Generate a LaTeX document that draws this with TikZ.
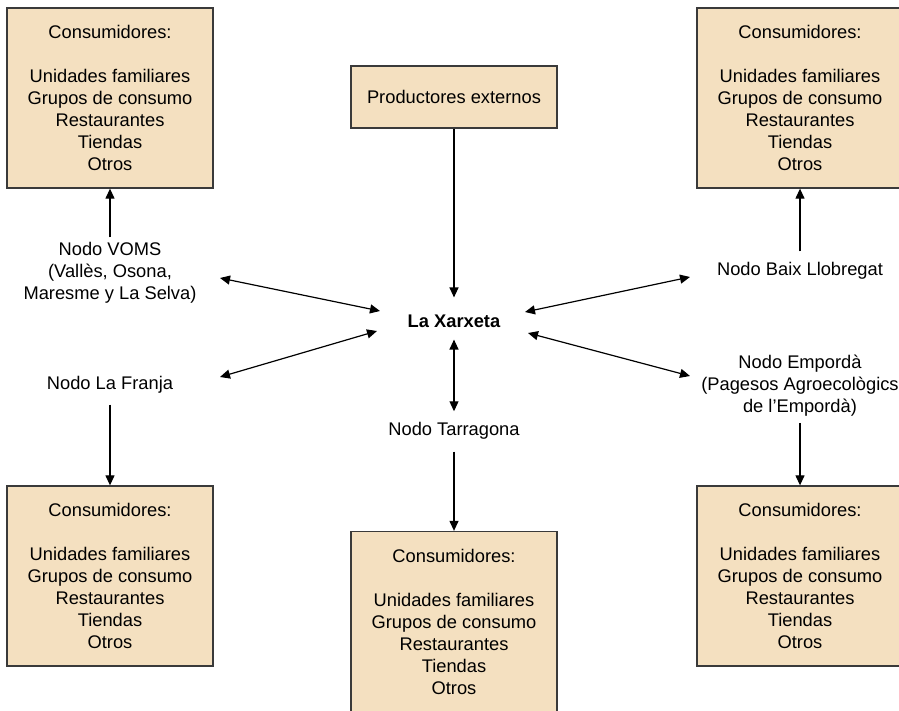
\documentclass[tikz,border=0pt]{standalone}
\usepackage{fontspec}
\setmainfont{Liberation Sans}
\usetikzlibrary{arrows.meta}
\definecolor{boxfill}{HTML}{F4E0C0}
\definecolor{boxline}{HTML}{3A3A3A}
\begin{document}
\begin{tikzpicture}[x=1pt,y=-1pt,
  txt/.style={font=\fontsize{18.3}{22}\selectfont},
  cbox/.style={txt,draw=boxline,fill=boxfill,line width=1.3pt,minimum width=206pt,minimum height=180pt,align=center,inner sep=0pt},
  pbox/.style={txt,draw=boxline,fill=boxfill,line width=1.3pt,minimum width=206pt,minimum height=62pt,align=center,inner sep=0pt},
  lbl/.style={txt,align=center,inner sep=0pt},
  arr/.style={line width=1.2pt,-{Triangle[length=10pt,width=9pt]}},
  darr/.style={line width=1.2pt,{Triangle[length=10pt,width=9pt]}-{Triangle[length=10pt,width=9pt]}}]
\useasboundingbox (0,0) rectangle (899,711);
\def\cons{Consumidores:\\[22pt]Unidades familiares\\Grupos de consumo\\Restaurantes\\Tiendas\\Otros}
% boxes
\node[cbox] (tl) at (110,98) {\cons};
\node[cbox] (tr) at (800,98) {\cons};
\node[cbox] (bl) at (110,576) {\cons};
\node[cbox] (br) at (800,576) {\cons};
\node[cbox] (bc) at (454,621.5) {\cons};
\node[pbox] (prod) at (454,97) {Productores externos};
% labels
\node[lbl,font=\fontsize{18.3}{22}\selectfont\bfseries] (xar) at (454,321) {La Xarxeta};
\node[lbl] (voms) at (110,273) {Nodo VOMS\\(Vallès, Osona,\\Maresme y La Selva)};
\node[lbl] (franja) at (110,385) {Nodo La Franja};
\node[lbl] (tarr) at (454,431) {Nodo Tarragona};
\node[lbl] (baix) at (800,271) {Nodo Baix Llobregat};
\node[lbl] (emp) at (800,386) {Nodo Empordà\\(Pagesos Agroecològics\\de l’Empordà)};
% connector end points
\coordinate (v1) at (220,278);
\coordinate (v2) at (380,311);
\coordinate (f1) at (220,377);
\coordinate (f2) at (377,331);
\coordinate (b1) at (690,277);
\coordinate (b2) at (525,312);
\coordinate (e1) at (690,376);
\coordinate (e2) at (528,333);
% connectors
\draw[arr] (prod.south) -- ([yshift=17pt]xar.north);
\draw[darr] ([yshift=-12pt]xar.south) -- ([yshift=11pt]tarr.north);
\draw[arr] ([yshift=-12pt]tarr.south) -- (bc.north);
\draw[darr] (v1) -- (v2);
\draw[darr] (f1) -- (f2);
\draw[darr] (b1) -- (b2);
\draw[darr] (e1) -- (e2);
\draw[arr] ([yshift=5pt]voms.north) -- (tl.south);
\draw[arr] ([yshift=11pt]baix.north) -- (tr.south);
\draw[arr] ([yshift=-11pt]franja.south) -- (bl.north);
\draw[arr] ([yshift=-6pt]emp.south) -- (br.north);
\end{tikzpicture}
\end{document}
